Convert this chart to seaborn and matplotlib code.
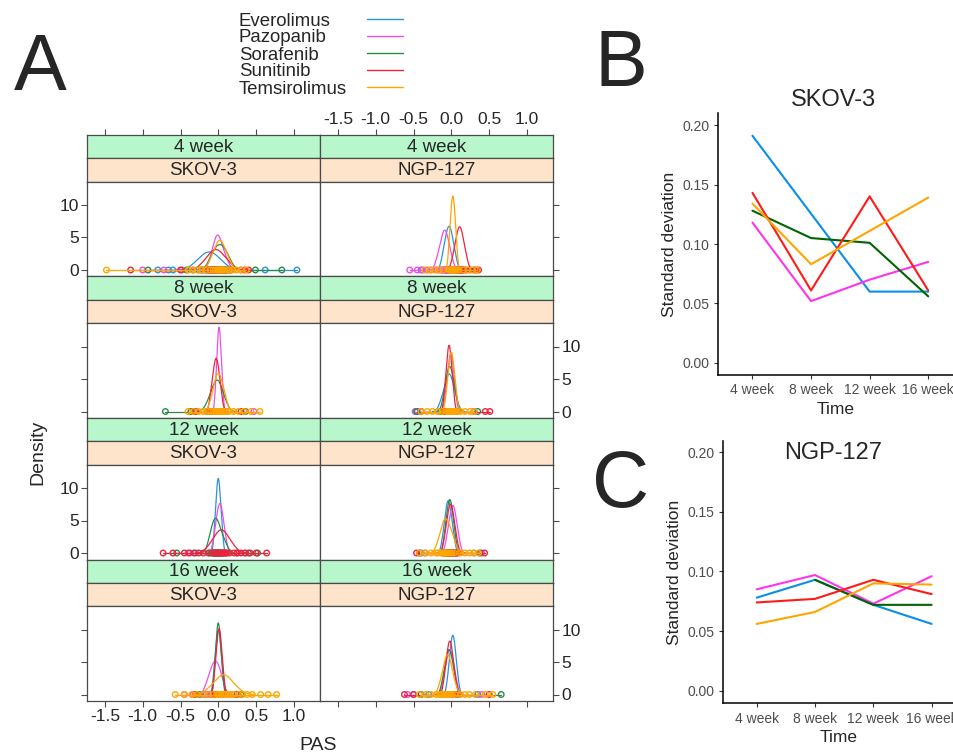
"""
PAS density lattice (A) + standard deviation over time (B: SKOV-3, C: NGP-127)
Saves out.png (954 x 756 px)
"""

import numpy as np
import pandas as pd
import matplotlib
matplotlib.use("Agg")
import matplotlib.pyplot as plt
from matplotlib.lines import Line2D
import seaborn as sns

# ── DATA ──────────────────────────────────────────────────────────────────────

DRUGS = ["Everolimus", "Pazopanib", "Sorafenib", "Sunitinib", "Temsirolimus"]
WEEKS = ["4 week", "8 week", "12 week", "16 week"]
CELL_LINES = ["SKOV-3", "NGP-127"]
XTICKS = [-1.5, -1.0, -0.5, 0.0, 0.5, 1.0]
YTICKS_DENS = [0, 5, 10]
YTICKS_SD = [0.00, 0.05, 0.10, 0.15, 0.20]

# PAS observations per drug: (bulk of the sample, outlying observations)
skov3_4w = {
    "Everolimus":   ([-0.33, -0.26, -0.22, -0.19, -0.16, -0.13, -0.11, -0.08, -0.05, -0.02, 0.02, 0.09],
                     [-0.80, -0.66, -0.60, 0.62, 1.04]),
    "Pazopanib":    ([-0.11, -0.07, -0.05, -0.04, -0.02, -0.01, 0.00, 0.02, 0.03, 0.05, 0.08, 0.12],
                     [-1.00, -0.72, -0.48, 0.30]),
    "Sorafenib":    ([-0.12, -0.08, -0.05, -0.03, -0.01, 0.01, 0.03, 0.05, 0.07, 0.09, 0.12, 0.16],
                     [-0.93, -0.42, 0.49, 0.84]),
    "Sunitinib":    ([-0.22, -0.15, -0.12, -0.09, -0.06, -0.04, -0.02, 0.00, 0.03, 0.06, 0.10, 0.16],
                     [-1.16, -0.50, 0.35, 0.40]),
    "Temsirolimus": ([-0.11, -0.07, -0.04, -0.02, 0.00, 0.01, 0.03, 0.04, 0.06, 0.08, 0.11, 0.15],
                     [-1.48, -0.40, -0.34, -0.28, -0.22, -0.17, 0.19, 0.24, 0.30, 0.37]),
}
ngp127_4w = {
    "Everolimus":   ([-0.115, -0.09, -0.07, -0.06, -0.045, -0.035, -0.025, -0.015, 0.0, 0.01, 0.03, 0.055],
                     [-0.40, 0.25]),
    "Pazopanib":    ([-0.19, -0.155, -0.135, -0.12, -0.105, -0.095, -0.085, -0.07, -0.06, -0.045, -0.025, 0.005],
                     [-0.55, -0.45, -0.38, -0.32, -0.27]),
    "Sunitinib":    ([0.02, 0.05, 0.07, 0.08, 0.095, 0.105, 0.115, 0.125, 0.14, 0.15, 0.17, 0.20],
                     [-0.03, 0.30, 0.33, 0.36]),
    "Temsirolimus": ([-0.03, -0.015, -0.005, 0.005, 0.01, 0.017, 0.023, 0.03, 0.037, 0.045, 0.055, 0.07],
                     [-0.35, -0.28, -0.22, -0.16, -0.11, 0.10, 0.16, 0.22, 0.28, 0.34]),
}
skov3_8w = {
    "Pazopanib":    ([-0.035, -0.02, -0.01, -0.005, 0.002, 0.007, 0.013, 0.018, 0.025, 0.032, 0.041, 0.056],
                     [-0.36, 0.47]),
    "Sorafenib":    ([-0.15, -0.10, -0.08, -0.06, -0.04, -0.025, -0.01, 0.0, 0.02, 0.035, 0.06, 0.10],
                     [-0.70, -0.36, 0.36]),
    "Sunitinib":    ([-0.10, -0.08, -0.065, -0.053, -0.042, -0.035, -0.025, -0.017, -0.006, 0.003, 0.018, 0.04],
                     [-0.30, 0.30]),
    "Temsirolimus": ([-0.10, -0.065, -0.045, -0.03, -0.015, -0.005, 0.005, 0.02, 0.035, 0.05, 0.07, 0.10],
                     [-0.40, -0.33, -0.26, -0.20, -0.14, 0.14, 0.20, 0.27, 0.34, 0.43, 0.55]),
}
ngp127_8w = {
    "Everolimus":   ([-0.14, -0.10, -0.08, -0.06, -0.045, -0.035, -0.025, -0.01, 0.0, 0.02, 0.04, 0.07],
                     [-0.45, 0.30]),
    "Pazopanib":    ([-0.075, -0.055, -0.04, -0.03, -0.02, -0.012, -0.005, 0.003, 0.012, 0.022, 0.035, 0.055],
                     [-0.48, -0.40, 0.30]),
    "Sorafenib":    ([-0.105, -0.075, -0.06, -0.048, -0.035, -0.025, -0.015, -0.005, 0.008, 0.02, 0.038, 0.065],
                     [-0.46, 0.35]),
    "Sunitinib":    ([-0.088, -0.069, -0.057, -0.049, -0.04, -0.033, -0.027, -0.02, -0.011, -0.003, 0.009, 0.028],
                     [-0.40, 0.45, 0.51]),
    "Temsirolimus": ([-0.065, -0.044, -0.03, -0.021, -0.011, -0.004, 0.004, 0.011, 0.021, 0.03, 0.044, 0.065],
                     [-0.40, -0.32, -0.25, -0.18, -0.12, 0.12, 0.18, 0.25, 0.30]),
}
skov3_12w = {
    "Everolimus":   ([-0.05, -0.033, -0.025, -0.016, -0.01, -0.002, 0.004, 0.008, 0.016, 0.025, 0.036, 0.052],
                     [-0.30, 0.25]),
    "Pazopanib":    ([-0.057, -0.032, -0.016, -0.005, 0.006, 0.015, 0.025, 0.034, 0.045, 0.056, 0.072, 0.097],
                     [-0.40, 0.35]),
    "Sorafenib":    ([-0.12, -0.095, -0.075, -0.06, -0.045, -0.035, -0.02, -0.005, 0.01, 0.03, 0.06, 0.10],
                     [-0.55, 0.40, 0.52]),
    "Sunitinib":    ([-0.13, -0.07, -0.04, -0.01, 0.01, 0.03, 0.05, 0.07, 0.09, 0.12, 0.15, 0.21],
                     [-0.73, -0.60, -0.45, -0.38, -0.32, -0.26, -0.20, 0.25, 0.30, 0.36, 0.42, 0.50, 0.64]),
}
ngp127_12w = {
    "Everolimus":   ([-0.113, -0.089, -0.074, -0.063, -0.053, -0.044, -0.036, -0.027, -0.016, -0.005, 0.01, 0.033],
                     [-0.40, 0.30]),
    "Pazopanib":    ([-0.06, -0.034, -0.018, -0.006, 0.006, 0.015, 0.025, 0.034, 0.046, 0.058, 0.074, 0.10],
                     [-0.35, 0.40]),
    "Sorafenib":    ([-0.091, -0.068, -0.054, -0.043, -0.033, -0.024, -0.016, -0.007, 0.003, 0.014, 0.028, 0.051],
                     [-0.42, 0.38]),
    "Sunitinib":    ([-0.088, -0.063, -0.047, -0.035, -0.024, -0.015, -0.005, 0.004, 0.015, 0.027, 0.043, 0.068],
                     [-0.46, 0.44]),
    "Temsirolimus": ([-0.18, -0.14, -0.12, -0.10, -0.09, -0.08, -0.065, -0.05, -0.03, -0.01, 0.01, 0.04],
                     [-0.42, -0.34, -0.27, -0.20, 0.12, 0.18, 0.24, 0.30, 0.36]),
}
skov3_16w = {
    "Everolimus":   ([-0.06, -0.04, -0.028, -0.019, -0.01, -0.003, 0.003, 0.01, 0.019, 0.028, 0.04, 0.06],
                     [-0.20, 0.25]),
    "Pazopanib":    ([-0.16, -0.12, -0.10, -0.08, -0.065, -0.05, -0.035, -0.02, -0.005, 0.01, 0.03, 0.06],
                     [-0.45, -0.33, 0.20]),
    "Sorafenib":    ([-0.052, -0.035, -0.025, -0.017, -0.009, -0.003, 0.003, 0.01, 0.017, 0.026, 0.037, 0.055],
                     [-0.25, 0.30]),
    "Sunitinib":    ([-0.047, -0.03, -0.017, -0.009, 0.0, 0.006, 0.014, 0.02, 0.029, 0.037, 0.049, 0.068],
                     [-0.30, 0.25]),
    "Temsirolimus": ([-0.13, -0.07, -0.02, 0.01, 0.035, 0.06, 0.08, 0.10, 0.13, 0.16, 0.20, 0.27],
                     [-0.57, -0.45, -0.35, -0.28, -0.20, 0.32, 0.38, 0.45, 0.56, 0.66, 0.77]),
}
ngp127_16w = {
    "Everolimus":   ([-0.045, -0.024, -0.01, 0.0, 0.008, 0.016, 0.024, 0.032, 0.041, 0.05, 0.064, 0.085],
                     [-0.30, 0.35]),
    "Pazopanib":    ([-0.105, -0.078, -0.06, -0.047, -0.035, -0.025, -0.015, -0.005, 0.008, 0.02, 0.038, 0.065],
                     [-0.58, -0.50, 0.40]),
    "Sorafenib":    ([-0.115, -0.088, -0.07, -0.057, -0.045, -0.035, -0.025, -0.015, -0.002, 0.01, 0.028, 0.055],
                     [-0.40, 0.66]),
    "Sunitinib":    ([-0.091, -0.068, -0.054, -0.043, -0.033, -0.024, -0.016, -0.007, 0.003, 0.014, 0.028, 0.051],
                     [-0.62, -0.50, 0.50]),
    "Temsirolimus": ([-0.15, -0.115, -0.095, -0.08, -0.065, -0.055, -0.045, -0.033, -0.02, -0.005, 0.015, 0.05],
                     [-0.42, -0.34, -0.27, -0.20, -0.14, 0.12, 0.18, 0.24, 0.32, 0.45, 0.55]),
}

# standard deviation of PAS per time point (None = not measured)
sd_skov3 = {
    "Everolimus":   [0.191, None, 0.060, 0.060],
    "Pazopanib":    [0.118, 0.052, 0.070, 0.085],
    "Sorafenib":    [0.128, 0.105, 0.101, 0.056],
    "Sunitinib":    [0.143, 0.061, 0.140, 0.061],
    "Temsirolimus": [0.134, 0.083, None, 0.139],
}
sd_ngp127 = {
    "Everolimus":   [0.078, 0.093, 0.072, 0.056],
    "Pazopanib":    [0.085, 0.097, 0.073, 0.096],
    "Sorafenib":    [None, 0.093, 0.072, 0.072],
    "Sunitinib":    [0.074, 0.077, 0.093, 0.081],
    "Temsirolimus": [0.056, 0.066, 0.090, 0.089],
}

PAS = {
    ("4 week", "SKOV-3"): skov3_4w,   ("4 week", "NGP-127"): ngp127_4w,
    ("8 week", "SKOV-3"): skov3_8w,   ("8 week", "NGP-127"): ngp127_8w,
    ("12 week", "SKOV-3"): skov3_12w, ("12 week", "NGP-127"): ngp127_12w,
    ("16 week", "SKOV-3"): skov3_16w, ("16 week", "NGP-127"): ngp127_16w,
}

# ── STYLE / LAYOUT (pixels on the 954 x 756 canvas) ──────────────────────────

A_COLORS = {"Everolimus": "#2c93dc", "Pazopanib": "#ee4ee8", "Sorafenib": "#2a8a4a",
            "Sunitinib": "#e8253a", "Temsirolimus": "#ffa500"}
SD_COLORS = {"Everolimus": "#0a8fe6", "Pazopanib": "#ff33ee", "Sorafenib": "#006400",
             "Sunitinib": "#ff1a1a", "Temsirolimus": "#ffa500"}
GREEN, PEACH, EDGE = "#b8f7cc", "#ffe4cc", "#4a4a4a"

W, H = 954, 756
COLS = [(87, 320), (320, 553)]
ROW_TOP, ROW_STEP, STRIP = 135, 141.5, 23.3
XLIM_A, YLIM_A = (-1.737, 1.345), (-1.0, 13.6)

sns.set_style("ticks")
plt.rcParams["font.family"] = ["Liberation Sans", "DejaVu Sans"]

fig = plt.figure(figsize=(W / 100, H / 100), dpi=100)


def px_box(x0, y0, x1, y1):
    return [x0 / W, 1 - y1 / H, (x1 - x0) / W, (y1 - y0) / H]


def fig_text(x, y, s, **kw):
    kw.setdefault("ha", "center")
    kw.setdefault("va", "center")
    fig.text(x / W, 1 - y / H, s, **kw)


def edge(ax, color=EDGE, lw=0.9):
    for sp in ax.spines.values():
        sp.set_color(color)
        sp.set_linewidth(lw)


def strip(box, label, color):
    ax = fig.add_axes(px_box(*box))
    ax.set_facecolor(color)
    ax.set_xlim(XLIM_A)
    ax.set_xticks([])
    ax.set_yticks([])
    edge(ax)
    ax.text(0.5, 0.47, label, transform=ax.transAxes, ha="center", va="center", fontsize=13.5)
    return ax


def draw_density(ax, samples):
    for drug in DRUGS:
        if drug not in samples:
            continue
        core, extra = samples[drug]
        pas = core + extra
        col = A_COLORS[drug]
        ax.plot([min(pas), max(pas)], [0, 0], color=col, lw=0.9)
        sns.kdeplot(x=core, ax=ax, color=col, lw=0.9)
        ax.scatter(pas, [0] * len(pas), s=16, facecolors="none", edgecolors=col,
                   linewidths=1.0, zorder=2)
    ax.set_xlabel("")
    ax.set_ylabel("")
    ax.set_xlim(XLIM_A)
    ax.set_ylim(YLIM_A)


TICK_KW = dict(direction="out", length=4, width=0.8, color=EDGE, labelsize=12.5, pad=2)
xlabels = [f"{v:.1f}" for v in XTICKS]

# ── A: density lattice ────────────────────────────────────────────────────────
for r, week in enumerate(WEEKS):
    top = ROW_TOP + r * ROW_STEP
    for c, line in enumerate(CELL_LINES):
        x0, x1 = COLS[c]
        g = strip((x0, top, x1, top + STRIP), week, GREEN)
        strip((x0, top + STRIP, x1, top + 2 * STRIP), line, PEACH)
        if r == 0:
            g.set_xticks(XTICKS, labels=xlabels)
            g.tick_params(axis="x", top=True, bottom=False, labeltop=(c == 1),
                          labelbottom=False, **TICK_KW)

        ax = fig.add_axes(px_box(x0, top + 2 * STRIP, x1, top + ROW_STEP))
        draw_density(ax, PAS[(week, line)])
        edge(ax)
        ax.set_xticks(XTICKS, labels=xlabels)
        ax.set_yticks(YTICKS_DENS, labels=[str(v) for v in YTICKS_DENS])
        ax.tick_params(**TICK_KW)
        ax.tick_params(axis="x", bottom=(r == 3), labelbottom=(r == 3 and c == 0),
                       top=False, labeltop=False)
        if c == 0:
            ax.tick_params(axis="y", left=True, labelleft=(r % 2 == 0),
                           right=False, labelright=False)
        else:
            ax.tick_params(axis="y", left=False, labelleft=False,
                           right=True, labelright=(r % 2 == 1))

fig_text(38, 452, "Density", rotation=90, fontsize=14)
fig_text(318, 745, "PAS", fontsize=14)

for i, drug in enumerate(DRUGS):
    y = 19 + 17 * i
    fig_text(239, y, drug, ha="left", va="center_baseline", fontsize=13.4)
    fig.add_artist(Line2D([367 / W, 403 / W], [1 - y / H] * 2,
                          color=A_COLORS[drug], lw=1))


# ── B / C: standard deviation over time ──────────────────────────────────────
def draw_sd(box, sd, xlim, ylim, title, title_y):
    ax = fig.add_axes(px_box(*box))
    rows = [(i, drug, v) for drug in DRUGS for i, v in enumerate(sd[drug]) if v is not None]
    df = pd.DataFrame(rows, columns=["Time", "drug", "sd"])
    sns.lineplot(data=df, x="Time", y="sd", hue="drug", hue_order=DRUGS,
                 palette=SD_COLORS, lw=1.5, legend=False, ax=ax)
    ax.set_xlim(xlim)
    ax.set_ylim(ylim)
    ax.set_xticks(range(len(WEEKS)), labels=WEEKS)
    ax.set_yticks(YTICKS_SD, labels=[f"{v:.2f}" for v in YTICKS_SD])
    ax.tick_params(length=3, width=0.8, color="#333333", labelcolor="#4d4d4d",
                   labelsize=10, pad=3)
    sns.despine(ax=ax)
    for side in ("left", "bottom"):
        ax.spines[side].set_color("black")
        ax.spines[side].set_linewidth(1.1)
    ax.set_ylabel("Standard deviation", fontsize=12.5, labelpad=4)
    ax.set_xlabel("Time", fontsize=12.5, labelpad=3)
    fig_text(833, title_y, title, fontsize=17)


draw_sd((718, 113, 954, 375), sd_skov3, (-0.588, 3.44), (-0.0101, 0.2101), "SKOV-3", 100)
draw_sd((722.7, 440.7, 954, 703.3), sd_ngp127, (-0.583, 3.384), (-0.0106, 0.2097), "NGP-127", 453)

# panel letters, placed on their baselines
fig_text(40, 90, "A", fontsize=57, va="baseline")
fig_text(621, 86, "B", fontsize=57, va="baseline")
fig_text(621, 507, "C", fontsize=57, va="baseline")

fig.savefig("out.png", dpi=100)
